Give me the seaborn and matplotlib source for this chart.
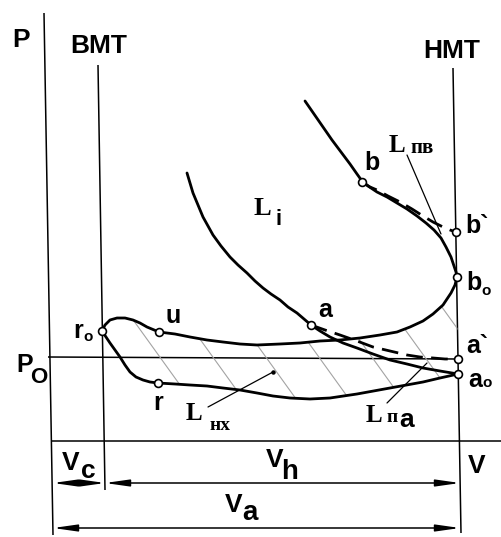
import numpy as np
import matplotlib
matplotlib.use("Agg")
import matplotlib.pyplot as plt
from matplotlib.patches import Polygon
import seaborn as sns

# Pumping loop of a four-stroke engine indicator diagram (V horizontal, P vertical)
# Expansion line ending at b0 (BDC)
expansion_v = [255, 264, 273, 282, 291, 300, 307, 312, 318, 327, 337, 347, 357, 367, 376,
               384, 391, 396, 401, 404, 406, 407]
expansion_p = [340, 327, 314, 301, 289, 277, 267, 260, 255, 249, 244, 238, 232, 225, 218,
               211, 203, 194, 184, 175, 169, 164]

# Exhaust line b0 -> u -> r0
exhaust_v = [407, 405, 401, 393, 383, 373, 360, 347, 330, 310, 290, 270, 250, 230, 207,
             190, 173, 157, 140, 125, 109, 97, 90, 83, 75, 67, 60, 55, 52]
exhaust_p = [164, 156, 148, 136, 127, 120, 114, 109, 106, 103, 101, 100, 98, 97, 96,
             97, 99, 101, 104, 107, 109, 114, 118, 121, 123, 123, 121, 116, 110]

# Intake line r0 -> r -> a0
intake_v = [52, 56, 60, 65, 70, 75, 80, 86, 93, 100, 108, 125, 140, 157, 173, 190, 207,
            223, 240, 260, 280, 307, 340, 373, 390, 408]
intake_p = [110, 104, 98, 91, 84, 76, 69, 64, 61, 59, 58, 57, 56, 55, 53, 51, 48,
            45, 43, 42, 43, 47, 53, 59, 63, 67]

# Compression line through a to a0
compression_v = [137, 140, 143, 148, 153, 158, 163, 171, 180, 188, 197, 205, 213, 221, 230,
                 238, 247, 254, 261, 270, 280, 293, 307, 323, 340, 357, 373, 390, 408]
compression_p = [268, 258, 248, 236, 224, 215, 206, 195, 184, 176, 168, 160, 153, 147, 141,
                 134, 128, 122, 116, 110, 104, 98, 93, 87, 81, 77, 73, 70, 67]

# Theoretical lines (dashed): a -> a'  and  b -> b'
theory_a_v = [261, 275, 290, 307, 323, 340, 357, 370, 383, 395, 408]
theory_a_p = [116, 111, 106, 100, 94, 90, 86, 84, 83, 82, 82]
theory_b_v = [312, 320, 327, 338, 350, 362, 373, 383, 393, 400, 406]
theory_b_p = [259, 254, 251, 245, 239, 232, 225, 219, 214, 211, 209]

# Characteristic points
point_names = ["b", "b`", "b0", "a", "a`", "a0", "u", "r", "r0"]
point_v = [312, 406, 407, 261, 408, 408, 109, 108, 52]
point_p = [259, 209, 164, 116, 82, 67, 109, 58, 110]

# Reference levels
p0_level = [84, 82]          # ambient pressure line (left end, right end)
tdc_v = [48, 55]             # BMT line
bdc_v = [403, 411]           # HMT line
p_axis_v = [-6, 3]

SANS = "Liberation Sans"
SERIF = "Liberation Serif"

sns.set_theme(style="white")
plt.rcParams["font.family"] = [SANS, "DejaVu Sans"]

fig = plt.figure(figsize=(5.02, 5.37), dpi=100)
ax = fig.add_axes([0, 0, 1, 1])
ax.set_xlim(-50, 452)
ax.set_ylim(-96, 441)
ax.axis("off")

thin = dict(color="black", linewidth=1.1, solid_capstyle="butt")
# P axis, V axis, BMT, HMT, P0
ax.plot(p_axis_v, [428, -94], **thin)
ax.plot([1, 452], [0, 0], **thin)
ax.plot(tdc_v, [376, -49], **thin)
ax.plot(bdc_v, [373, -92], **thin)
ax.plot([-2, 408], p0_level, **thin)

# Hatched area of the pumping loop
loop_xy = np.column_stack([exhaust_v + intake_v[1:], exhaust_p + intake_p[1:]])
loop = Polygon(loop_xy, closed=True, facecolor="none", edgecolor="none")
ax.add_patch(loop)
for v0 in np.arange(112, 450, 53):
    pp = np.array([20.0, 190.0])
    hl, = ax.plot(v0 - 0.72 * (pp - 81), pp, color="#a3a3a3", linewidth=0.8)
    hl.set_clip_path(loop)

curve_kw = dict(color="black", linewidth=2.0, sort=False, estimator=None, ax=ax,
                solid_joinstyle="round", solid_capstyle="round")
sns.lineplot(x=expansion_v, y=expansion_p, **curve_kw)
sns.lineplot(x=exhaust_v, y=exhaust_p, **curve_kw)
sns.lineplot(x=intake_v, y=intake_p, **curve_kw)
sns.lineplot(x=compression_v, y=compression_p, **curve_kw)

dash_kw = dict(color="black", linewidth=2.0, sort=False, estimator=None, ax=ax,
               linestyle=(0, (6, 3)))
sns.lineplot(x=theory_a_v, y=theory_a_p, **dash_kw)
sns.lineplot(x=theory_b_v, y=theory_b_p, **dash_kw)

# Leader lines of the work labels
ax.plot([357, 391], [286, 207], color="black", linewidth=0.9)
ax.plot([158, 223], [34, 69], color="black", linewidth=0.9)
ax.plot([223], [69], marker="o", markersize=2.2, color="black")
ax.plot([337, 377], [38, 78], color="black", linewidth=0.9)

sns.scatterplot(x=point_v, y=point_p, s=32, facecolor="white", edgecolor="black",
                linewidth=1.2, zorder=5, ax=ax, legend=False)

# Dimension arrows Vc, Vh, Va
arr = dict(arrowstyle="<|-|>,head_length=1.2,head_width=0.17", color="black",
           linewidth=1.1, shrinkA=0, shrinkB=0)
ax.annotate("", xy=(3, -42), xytext=(55, -42), arrowprops=arr)
ax.annotate("", xy=(55, -42), xytext=(410, -42), arrowprops=arr)
ax.annotate("", xy=(3, -87), xytext=(410, -87), arrowprops=arr)


def txt(v, p, s, size, family=SANS, weight="bold"):
    ax.text(v, p, s, fontsize=size, family=family, fontweight=weight,
            ha="center", va="baseline", color="black")


# Axis and dead-centre labels
txt(-29, 394, "P", 19)
txt(49, 388, "ВМТ", 19)
txt(402, 383, "НМТ", 19)
txt(-25, 69, "P", 18)
txt(-11, 58, "O", 16)
txt(21, -29, "V", 19)
txt(38, -37, "c", 19)
txt(225, -26, "V", 19)
txt(240, -38, "h", 20)
txt(427, -32, "V", 19)
txt(184, -71, "V", 19)
txt(200, -79, "a", 20)

# Point labels
txt(322, 271, "b", 18)
txt(427, 208, "b`", 18)
txt(424, 151, "b", 18)
txt(436, 146, "o", 11)
txt(275, 124, "a", 18)
txt(427, 88, "a`", 18)
txt(425, 54, "a", 18)
txt(437, 54, "o", 11)
txt(123, 118, "u", 18)
txt(108, 31, "r", 18)
txt(28, 103, "r", 18)
txt(38, 100, "o", 11)

# Work labels
txt(212, 226, "L", 19, family=SERIF)
txt(229, 216, "i", 16)
txt(347, 289, "L", 18, family=SERIF)
txt(372, 288, "пв", 15, family=SERIF)
txt(144, 21, "L", 18, family=SERIF)
txt(170, 11, "нх", 14, family=SERIF)
txt(324, 19, "L", 18, family=SERIF)
txt(342, 19, "п", 14, family=SERIF)
txt(357, 14, "а", 19)

fig.savefig("out.png", dpi=100, facecolor="white")
